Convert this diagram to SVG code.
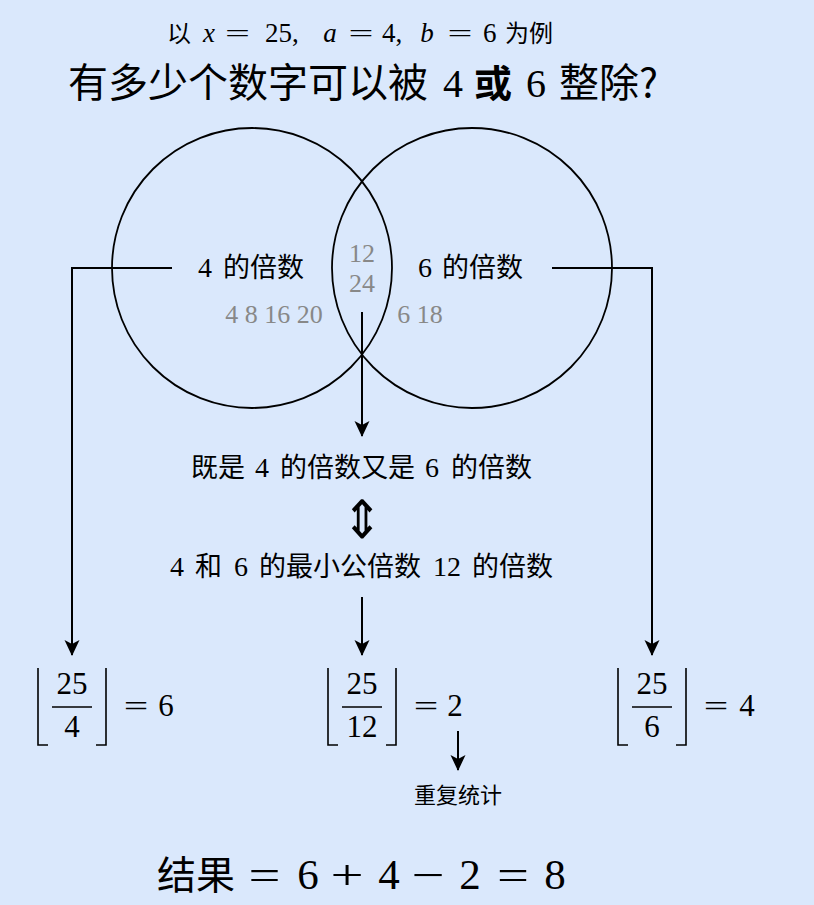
<svg xmlns="http://www.w3.org/2000/svg" width="814" height="905" viewBox="0 0 814 905">
<defs>
<style>
.cjk{font-family:"Noto Sans CJK SC","Noto Sans",sans-serif;fill:#000}
.m{font-family:"Liberation Serif","DejaVu Serif",serif;fill:#000}
.mi{font-family:"Liberation Serif","DejaVu Serif",serif;font-style:italic;fill:#000}
.gray{font-family:"Liberation Serif","DejaVu Serif",serif;fill:#888}
.ln{fill:none;stroke:#000;stroke-width:2}
.br{fill:none;stroke:#000;stroke-width:1.6}
.circ{fill:none;stroke:#000;stroke-width:1.8}
</style>
<marker id="ah" viewBox="0 0 16 16" refX="15" refY="8" markerWidth="16" markerHeight="16" markerUnits="userSpaceOnUse" orient="auto">
<path d="M0,0.5 L16,8 L0,15.5 L4,8 z" fill="#000"/>
</marker>
</defs>
<rect x="0" y="0" width="814" height="905" fill="#dae8fc"/>

<g id="title">
<text class="cjk" x="167" y="42" font-size="24">以</text>
<text class="mi" x="209" y="42" font-size="27" text-anchor="middle">x</text>
<text class="m" transform="translate(237.5 42) scale(1.7 1)" font-size="26" text-anchor="middle">=</text>
<text class="m" x="265" y="42" font-size="27">25,</text>
<text class="mi" x="330" y="42" font-size="27" text-anchor="middle">a</text>
<text class="m" transform="translate(361 42) scale(1.7 1)" font-size="26" text-anchor="middle">=</text>
<text class="m" x="382" y="42" font-size="27">4,</text>
<text class="mi" x="427" y="42" font-size="27" text-anchor="middle">b</text>
<text class="m" transform="translate(460 42) scale(1.7 1)" font-size="26" text-anchor="middle">=</text>
<text class="m" x="483" y="42" font-size="27">6</text>
<text class="cjk" x="505" y="42" font-size="24">为例</text>
<text y="97" font-size="38"><tspan class="cjk" x="68" font-size="40">有多少个数字可以被</tspan><tspan class="m" x="443" font-size="40">4</tspan><tspan class="cjk" x="474" font-weight="bold" font-size="38">或</tspan><tspan class="m" x="526" font-size="40">6</tspan><tspan class="cjk" x="559" font-size="40">整除?</tspan></text>
</g>

<g id="venn-left">
<circle class="circ" cx="252" cy="268" r="140"/>
<text y="277" font-size="27"><tspan class="m" x="198" font-size="28">4</tspan><tspan class="cjk" x="223">的倍数</tspan></text>
<text class="gray" x="274" y="323" font-size="26" text-anchor="middle">4 8 16 20</text>
</g>
<g id="venn-right">
<circle class="circ" cx="472" cy="268" r="140"/>
<text y="277" font-size="27"><tspan class="m" x="418" font-size="28">6</tspan><tspan class="cjk" x="442">的倍数</tspan></text>
<text class="gray" x="420" y="323" font-size="26" text-anchor="middle">6 18</text>
</g>
<g id="venn-intersection">
<text class="gray" x="362" y="262" font-size="26" text-anchor="middle">12</text>
<text class="gray" x="362" y="292" font-size="26" text-anchor="middle">24</text>
</g>

<g id="both">
<text y="477" font-size="27"><tspan class="cjk" x="191">既是</tspan><tspan class="m" x="255" font-size="28">4</tspan><tspan class="cjk" x="280">的倍数又是</tspan><tspan class="m" x="425" font-size="28">6</tspan><tspan class="cjk" x="451">的倍数</tspan></text>
</g>
<g id="equiv">
<text font-family="DejaVu Sans, sans-serif" font-weight="200" font-size="50" text-anchor="middle" transform="translate(362 538) scale(0.95 1.05)">⇕</text>
</g>
<g id="lcm">
<text y="576" font-size="27"><tspan class="m" x="170" font-size="28">4</tspan><tspan class="cjk" x="195">和</tspan><tspan class="m" x="234" font-size="28">6</tspan><tspan class="cjk" x="259">的最小公倍数</tspan><tspan class="m" x="433" font-size="28">12</tspan><tspan class="cjk" x="472">的倍数</tspan></text>
</g>

<g id="frac-left">
<path class="br" d="M38,668 V745 H48 M106,668 V745 H96"/>
<line class="br" x1="52" y1="707" x2="92" y2="707"/>
<text class="m" x="72" y="694" font-size="31" text-anchor="middle">25</text>
<text class="m" x="72" y="737" font-size="31" text-anchor="middle">4</text>
<text class="m" transform="translate(136 716) scale(1.45 1)" font-size="30" text-anchor="middle">=</text>
<text class="m" x="166" y="716" font-size="31" text-anchor="middle">6</text>
</g>
<g id="frac-mid">
<path class="br" d="M328,668 V745 H338 M396,668 V745 H386"/>
<line class="br" x1="342" y1="707" x2="382" y2="707"/>
<text class="m" x="362" y="694" font-size="31" text-anchor="middle">25</text>
<text class="m" x="362" y="737" font-size="31" text-anchor="middle">12</text>
<text class="m" transform="translate(426 716) scale(1.45 1)" font-size="30" text-anchor="middle">=</text>
<text class="m" x="455" y="716" font-size="31" text-anchor="middle">2</text>
</g>
<g id="frac-right">
<path class="br" d="M618,668 V745 H628 M686,668 V745 H676"/>
<line class="br" x1="632" y1="707" x2="672" y2="707"/>
<text class="m" x="652" y="694" font-size="31" text-anchor="middle">25</text>
<text class="m" x="652" y="737" font-size="31" text-anchor="middle">6</text>
<text class="m" transform="translate(716 716) scale(1.45 1)" font-size="30" text-anchor="middle">=</text>
<text class="m" x="747" y="716" font-size="31" text-anchor="middle">4</text>
</g>
<g id="dup">
<text class="cjk" x="458" y="803" font-size="22" text-anchor="middle">重复统计</text>
</g>
<g id="result">
<text class="cjk" x="157" y="889" font-size="39">结果</text>
<text class="m" transform="translate(264.5 889) scale(1.35 1)" font-size="42" text-anchor="middle">=</text>
<text class="m" x="308" y="889" font-size="43" text-anchor="middle">6</text>
<text class="m" transform="translate(347 889) scale(1.4 1)" font-size="42" text-anchor="middle">+</text>
<text class="m" x="389" y="889" font-size="43" text-anchor="middle">4</text>
<text class="m" transform="translate(428 889) scale(1.4 1)" font-size="42" text-anchor="middle">−</text>
<text class="m" x="470" y="889" font-size="43" text-anchor="middle">2</text>
<text class="m" transform="translate(513 889) scale(1.35 1)" font-size="42" text-anchor="middle">=</text>
<text class="m" x="555" y="889" font-size="43" text-anchor="middle">8</text>
</g>

<g id="connectors">
<path class="ln" d="M172,268 H72 V655" marker-end="url(#ah)"/>
<path class="ln" d="M552,268 H652 V655" marker-end="url(#ah)"/>
<path class="ln" d="M362,312 V436" marker-end="url(#ah)"/>
<path class="ln" d="M362,597 V655" marker-end="url(#ah)"/>
<path class="ln" d="M458,731 V770" marker-end="url(#ah)"/>
</g>
</svg>
